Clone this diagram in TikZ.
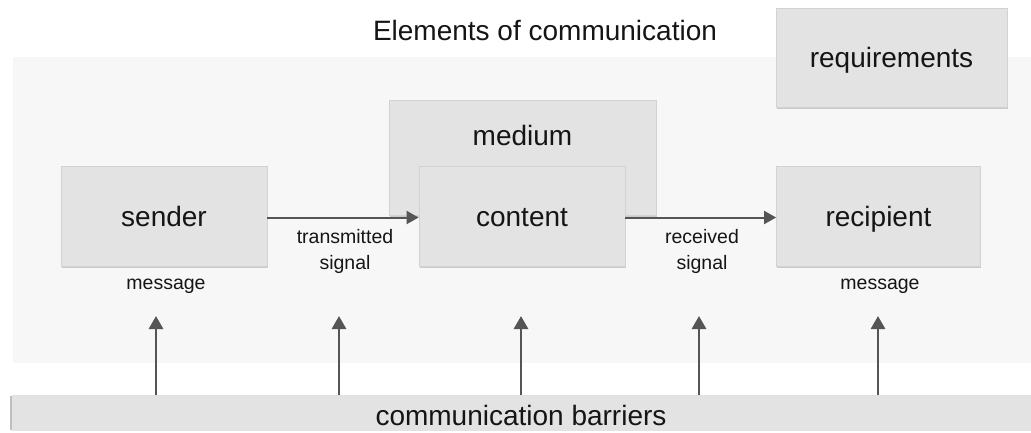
\documentclass[tikz,border=0pt]{standalone}
\usepackage{fontspec}
\setmainfont{Liberation Sans}
\usetikzlibrary{arrows.meta,shadows}
\definecolor{panelbg}{HTML}{F7F7F7}
\definecolor{boxbg}{HTML}{E3E3E3}
\definecolor{boxline}{HTML}{D2D2D2}
\definecolor{arrowc}{HTML}{555555}
\definecolor{textc}{HTML}{151515}
\tikzset{
  bigtext/.style={text=textc, font=\fontsize{28}{33}\selectfont},
  elbox/.style={rectangle, fill=boxbg, draw=boxline, line width=0.8pt, inner sep=0pt,
    drop shadow={shadow xshift=0.8pt, shadow yshift=-1.6pt, opacity=0.18, fill=black},
    bigtext, text height=26pt, text depth=6pt},
  small/.style={text=textc, font=\fontsize{19.5}{26}\selectfont, align=center, inner sep=0pt},
  flow/.style={draw=arrowc, line width=2pt, -{Triangle[length=12pt,width=13pt]}},
  barrierarrow/.style={draw=arrowc, line width=2.8pt, -{Triangle[length=13pt,width=14pt]}},
}
\begin{document}
\begin{tikzpicture}[x=1pt,y=-1pt]
\useasboundingbox (0,0) rectangle (1031,432);
% background panel
\fill[panelbg] (13,57) rectangle (1031,363);
% title
\node[bigtext] (title) at (545,30) {Elements of communication};
% boxes
\node[elbox, minimum width=231pt, minimum height=99pt] (req) at (891.5,57.5) {requirements};
\node[elbox, minimum width=267pt, minimum height=115pt] (medium) at (522.5,157.5) {};
\node[bigtext] (mediumlabel) at (522.5,135) {medium};
\node[elbox, minimum width=206pt, minimum height=100pt] (sender) at (164,216.5) {sender};
\node[elbox, minimum width=206pt, minimum height=100pt] (content) at (522,216.5) {content};
\node[elbox, minimum width=204pt, minimum height=100pt] (recipient) at (878.5,216.5) {recipient};
% flow arrows
\draw[flow] ([yshift=-1pt]sender.east) -- ([yshift=-1pt]content.west);
\draw[flow] ([yshift=-1pt]content.east) -- ([yshift=-1pt]recipient.west);
% labels
\node[small] (tsig) at (345,251) {transmitted\\signal};
\node[small] (rsig) at (702,251) {received\\signal};
\node[small] (smsg) at (166,286) {message};
\node[small] (rmsg) at (880,286) {message};
% barrier bar
\fill[black!25] (9.5,396) rectangle (13,430);
\node[rectangle, fill=boxbg, inner sep=0pt, minimum width=1019pt, minimum height=35pt] (barrier) at (521.5,413) {};
\node[bigtext] (barrierlabel) at (521,415) {communication barriers};
\draw[black!12, line width=1pt] (12,395.5) -- (1031,395.5);
% barrier arrows
\coordinate (t1) at (156,316);
\coordinate (t2) at (339,316);
\coordinate (t3) at (521,316);
\coordinate (t4) at (699,316);
\coordinate (t5) at (878,316);
\foreach \t in {t1,t2,t3,t4,t5}{
  \draw[barrierarrow] (barrier.north -| \t) -- (\t);
}
\end{tikzpicture}
\end{document}
